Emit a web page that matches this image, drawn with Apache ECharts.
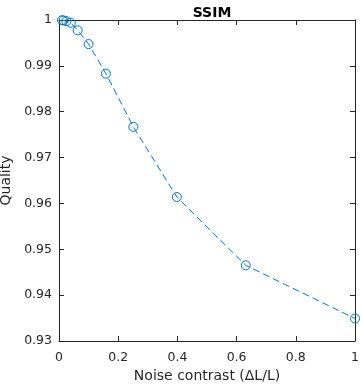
<!DOCTYPE html>
<html><head><meta charset="utf-8">
<script src="https://cdn.jsdelivr.net/npm/echarts@6/dist/echarts.min.js"></script>
<style>html,body{margin:0;padding:0;background:#fff}#c{width:362px;height:385px}</style>
</head><body><div id="c"></div>
<script>
const noiseContrast = [0.01, 0.0158, 0.0251, 0.0398, 0.0631, 0.1, 0.1585, 0.2512, 0.3981, 0.631, 1.0];
const quality = [0.99995, 0.9999, 0.99975, 0.9994, 0.99775, 0.99475, 0.9883, 0.9767, 0.9614, 0.9465, 0.9349];
const xTicks = [0, 0.2, 0.4, 0.6, 0.8, 1];
const yTicks = [0.93, 0.94, 0.95, 0.96, 0.97, 0.98, 0.99, 1];

const axisColor = '#262626';
const font = 'DejaVu Sans';
const fmt = v => String(Math.round(v * 100) / 100);
const chart = echarts.init(document.getElementById('c'), null, {renderer: 'canvas'});
const baseAxis = {
  axisLine: {show: true, onZero: false, lineStyle: {color: axisColor, width: 1}},
  axisTick: {show: true, inside: true, length: 5, lineStyle: {color: axisColor}},
  splitLine: {show: false},
};
chart.setOption({
  animation: false,
  title: {text: 'SSIM', left: 207, top: 1, textAlign: 'center',
    textStyle: {fontFamily: font, fontSize: 14, fontWeight: 'bold', color: '#000'}},
  grid: {left: 59, right: 7, top: 20, bottom: 44, containLabel: false, outerBoundsMode: 'none'},
  xAxis: [
    Object.assign({}, baseAxis, {type: 'value', min: 0, max: 1, interval: 0.2, position: 'bottom',
      name: 'Noise contrast (\u0394L/L)', nameLocation: 'middle', nameGap: 27,
      nameTextStyle: {fontFamily: font, fontSize: 14, color: axisColor},
      axisLabel: {fontFamily: font, fontSize: 12.5, color: axisColor, margin: 10, formatter: fmt}}),
    Object.assign({}, baseAxis, {type: 'value', min: 0, max: 1, interval: 0.2, position: 'top',
      axisLabel: {show: false}})
  ],
  yAxis: [
    Object.assign({}, baseAxis, {type: 'value', min: 0.93, max: 1, interval: 0.01, position: 'left',
      name: 'Quality', nameLocation: 'middle', nameGap: 44, nameRotate: 90,
      nameTextStyle: {fontFamily: font, fontSize: 14, color: axisColor},
      axisLabel: {fontFamily: font, fontSize: 12.5, color: axisColor, margin: 7, formatter: fmt}}),
    Object.assign({}, baseAxis, {type: 'value', min: 0.93, max: 1, interval: 0.01, position: 'right',
      axisLabel: {show: false}})
  ],
  series: [{
    type: 'line',
    data: noiseContrast.map((x, i) => [x, quality[i]]),
    symbol: 'circle', symbolSize: 9, showSymbol: true, clip: false,
    lineStyle: {color: '#0072BD', width: 1, type: [7, 4]},
    itemStyle: {color: 'rgba(0,0,0,0)', borderColor: '#0072BD', borderWidth: 1}
  }]
});
</script></body></html>
